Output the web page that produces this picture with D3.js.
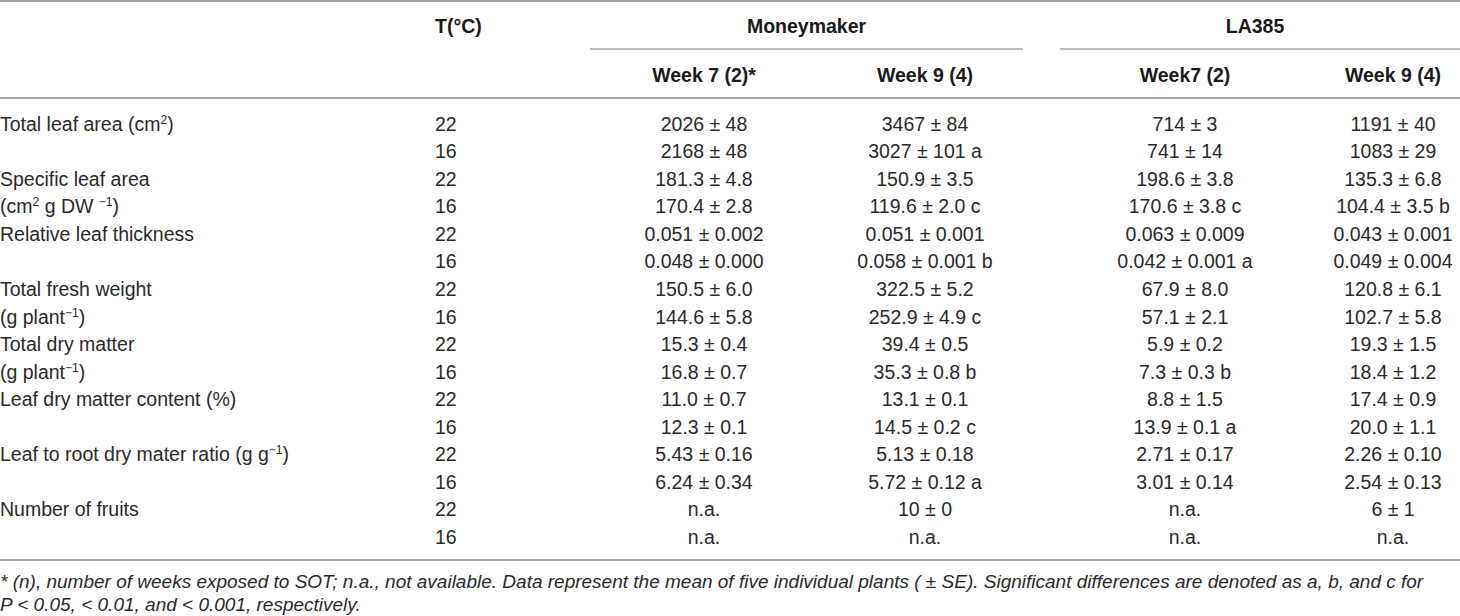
<!DOCTYPE html>
<html>
<head>
<meta charset="utf-8">
<script src="https://cdn.jsdelivr.net/npm/d3@7"></script>
<style>
  html, body { margin: 0; padding: 0; background: #fff; }
  svg { display: block; }
  text { font-family: "Liberation Sans", Arial, Helvetica, sans-serif; }
</style>
</head>
<body>
<div id="chart"></div>
<script>
// ---- data ----
const groups = ["Moneymaker", "LA385"];
const weekHeaders = ["Week 7 (2)*", "Week 9 (4)", "Week7 (2)", "Week 9 (4)"];
const tempHeader = "T(°C)";
// row labels; ^{..} marks a superscript
const rowLabels = [
  "Total leaf area (cm^{2})", "",
  "Specific leaf area", "(cm^{2} g DW ^{−1})",
  "Relative leaf thickness", "",
  "Total fresh weight", "(g plant^{−1})",
  "Total dry matter", "(g plant^{−1})",
  "Leaf dry matter content (%)", "",
  "Leaf to root dry mater ratio (g g^{−1})", "",
  "Number of fruits", ""
];
const temps = ["22","16","22","16","22","16","22","16","22","16","22","16","22","16","22","16"];
const moneymakerWeek7 = ["2026 ± 48","2168 ± 48","181.3 ± 4.8","170.4 ± 2.8","0.051 ± 0.002","0.048 ± 0.000","150.5 ± 6.0","144.6 ± 5.8","15.3 ± 0.4","16.8 ± 0.7","11.0 ± 0.7","12.3 ± 0.1","5.43 ± 0.16","6.24 ± 0.34","n.a.","n.a."];
const moneymakerWeek9 = ["3467 ± 84","3027 ± 101 a","150.9 ± 3.5","119.6 ± 2.0 c","0.051 ± 0.001","0.058 ± 0.001 b","322.5 ± 5.2","252.9 ± 4.9 c","39.4 ± 0.5","35.3 ± 0.8 b","13.1 ± 0.1","14.5 ± 0.2 c","5.13 ± 0.18","5.72 ± 0.12 a","10 ± 0","n.a."];
const la385Week7 = ["714 ± 3","741 ± 14","198.6 ± 3.8","170.6 ± 3.8 c","0.063 ± 0.009","0.042 ± 0.001 a","67.9 ± 8.0","57.1 ± 2.1","5.9 ± 0.2","7.3 ± 0.3 b","8.8 ± 1.5","13.9 ± 0.1 a","2.71 ± 0.17","3.01 ± 0.14","n.a.","n.a."];
const la385Week9 = ["1191 ± 40","1083 ± 29","135.3 ± 6.8","104.4 ± 3.5 b","0.043 ± 0.001","0.049 ± 0.004","120.8 ± 6.1","102.7 ± 5.8","19.3 ± 1.5","18.4 ± 1.2","17.4 ± 0.9","20.0 ± 1.1","2.26 ± 0.10","2.54 ± 0.13","6 ± 1","n.a."];
const footnoteLines = [
  "* (n), number of weeks exposed to SOT; n.a., not available. Data represent the mean of five individual plants ( ± SE). Significant differences are denoted as a, b, and c for",
  "P < 0.05, < 0.01, and < 0.001, respectively."
];

// ---- layout ----
const W = 1460, H = 616;
const FS = 19.5;
const textColor = "#2a2a2a";
const lineColor = "#a6a6a6";

const svg = d3.select("#chart").append("svg").attr("width", W).attr("height", H);

const valueCols = [moneymakerWeek7, moneymakerWeek9, la385Week7, la385Week9];
const colX = d3.scaleOrdinal().domain(d3.range(4)).range([704, 925, 1185, 1393]);
const groupSpan = d3.scaleOrdinal().domain(groups).range([[590, 1023], [1060, 1460]]);
const tempX = 435;

const rowIdx = d3.range(rowLabels.length);
const y = d3.scalePoint().domain(rowIdx).range([124, 537]);

function addRich(sel, str) {
  const parts = str.split(/(\^\{[^}]*\})/).filter(s => s.length);
  let pending = 0;
  parts.forEach(p => {
    if (p.startsWith("^{")) {
      sel.append("tspan").attr("font-size", FS * 0.62).attr("dy", pending - 7).text(p.slice(2, -1));
      pending = 7;
    } else {
      const t = sel.append("tspan").text(p);
      if (pending) t.attr("dy", pending);
      pending = 0;
    }
  });
}

// lines
svg.append("line").attr("x1", 0).attr("x2", W).attr("y1", 1).attr("y2", 1)
  .attr("stroke", lineColor).attr("stroke-width", 2);
groups.forEach(g => {
  const [a, b] = groupSpan(g);
  svg.append("line").attr("x1", a).attr("x2", b).attr("y1", 49).attr("y2", 49)
    .attr("stroke", lineColor).attr("stroke-width", 1.5);
});
svg.append("line").attr("x1", 0).attr("x2", W).attr("y1", 98).attr("y2", 98)
  .attr("stroke", lineColor).attr("stroke-width", 2);
svg.append("line").attr("x1", 0).attr("x2", W).attr("y1", 560).attr("y2", 560)
  .attr("stroke", lineColor).attr("stroke-width", 2);

// header
const bold = { "font-weight": "bold", "font-size": FS, fill: "#1a1a1a" };
function applyAttrs(s, o) { Object.entries(o).forEach(([k, v]) => s.attr(k, v)); return s; }

applyAttrs(svg.append("text"), bold).attr("x", tempX).attr("y", 26).attr("dy", "0.35em").text(tempHeader);
groups.forEach(g => {
  const [a, b] = groupSpan(g);
  applyAttrs(svg.append("text"), bold).attr("x", (a + b) / 2 - (g === "LA385" ? 5 : 0)).attr("y", 26)
    .attr("dy", "0.35em").attr("text-anchor", "middle").text(g);
});
svg.selectAll("text.wk").data(weekHeaders).join("text").attr("class", "wk")
  .each(function () { applyAttrs(d3.select(this), bold); })
  .attr("x", (d, i) => colX(i)).attr("y", 75).attr("dy", "0.35em")
  .attr("text-anchor", "middle").text(d => d);

// body
const body = svg.append("g").attr("font-size", FS).attr("fill", textColor);
body.selectAll("text.lbl").data(rowIdx).join("text").attr("class", "lbl")
  .attr("x", 0).attr("y", i => y(i)).attr("dy", "0.35em")
  .each(function (i) { addRich(d3.select(this), rowLabels[i]); });
body.selectAll("text.tmp").data(rowIdx).join("text").attr("class", "tmp")
  .attr("x", tempX).attr("y", i => y(i)).attr("dy", "0.35em").text(i => temps[i]);
valueCols.forEach((col, c) => {
  body.selectAll("text.v" + c).data(rowIdx).join("text").attr("class", "v" + c)
    .attr("x", colX(c)).attr("y", i => y(i)).attr("dy", "0.35em")
    .attr("text-anchor", "middle").text(i => col[i]);
});

// footnote
svg.selectAll("text.fn").data(footnoteLines).join("text").attr("class", "fn")
  .attr("x", 0).attr("y", (d, i) => 581 + i * 23).attr("dy", "0.35em")
  .attr("font-size", 19).attr("font-style", "italic").attr("fill", textColor)
  .text(d => d);
</script>
</body>
</html>
